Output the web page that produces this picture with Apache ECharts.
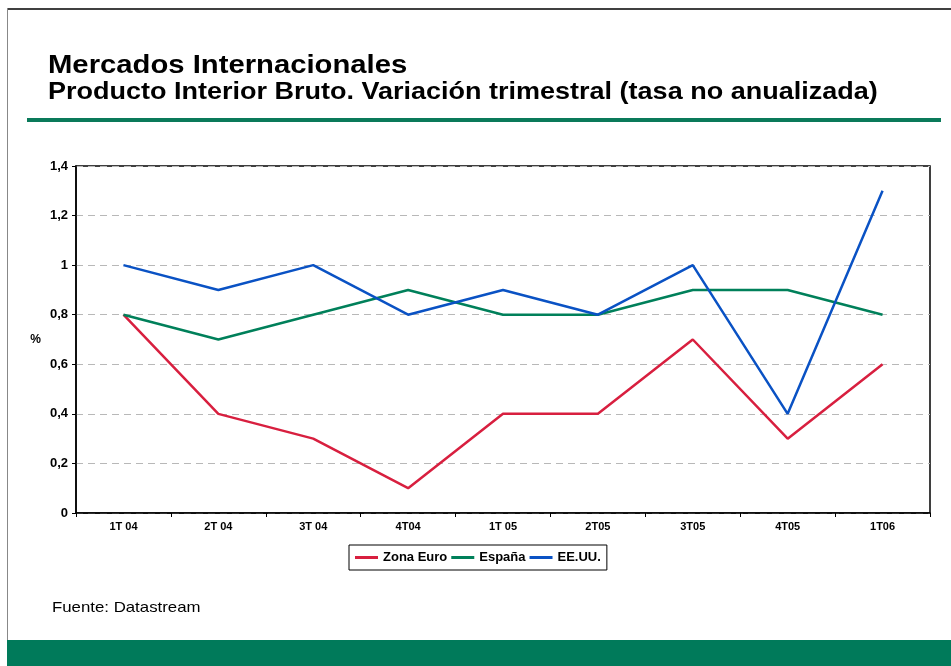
<!DOCTYPE html>
<html>
<head>
<meta charset="utf-8">
<script src="https://cdn.jsdelivr.net/npm/echarts@6/dist/echarts.min.js"></script>
<style>html,body{margin:0;padding:0;background:#fff;}#c{width:951px;height:666px;}</style>
</head>
<body>
<div id="c"></div>
<script>
const categories = ['1T 04','2T 04','3T 04','4T04','1T 05','2T05','3T05','4T05','1T06'];
const zonaEuro = [0.8, 0.4, 0.3, 0.1, 0.4, 0.4, 0.7, 0.3, 0.6];
const espana   = [0.8, 0.7, 0.8, 0.9, 0.8, 0.8, 0.9, 0.9, 0.8];
const eeuu     = [1.0, 0.9, 1.0, 0.8, 0.9, 0.8, 1.0, 0.4, 1.3];

const chart = echarts.init(document.getElementById('c'));
const font = 'Liberation Sans, Arial, sans-serif';
chart.setOption({
  animation: false,
  textStyle: { fontFamily: font },
  graphic: [
    { type: 'line', shape: { x1: 7, y1: 9, x2: 951, y2: 9 }, style: { stroke: '#000', lineWidth: 1.5 } },
    { type: 'line', shape: { x1: 7.5, y1: 8, x2: 7.5, y2: 640 }, style: { stroke: '#888', lineWidth: 1 } },
    { type: 'rect', shape: { x: 27, y: 118, width: 914, height: 4 }, style: { fill: '#0a7a5a' } },
    { type: 'rect', shape: { x: 7, y: 640, width: 944, height: 26 }, style: { fill: '#007a5a' } },
    { type: 'text', x: 48, y: 66, scaleX: 1.125, originX: 0,
      style: { text: 'Mercados Internacionales', font: 'bold 26px ' + font, fill: '#000', verticalAlign: 'middle', align: 'left' } },
    { type: 'text', x: 48, y: 92, scaleX: 1.125, originX: 0,
      style: { text: 'Producto Interior Bruto. Variación trimestral (tasa no anualizada)', font: 'bold 24px ' + font, fill: '#000', verticalAlign: 'middle', align: 'left' } },
    { type: 'text', x: 52, y: 608, scaleX: 1.12, originX: 0,
      style: { text: 'Fuente: Datastream', font: '15px ' + font, fill: '#000', verticalAlign: 'middle', align: 'left' } }
  ],
  legend: {
    left: 349, top: 545,
    data: ['Zona Euro','España','EE.UU.'],
    icon: 'rect', itemWidth: 23, itemHeight: 3, itemGap: 4,
    borderColor: '#000', borderWidth: 1, padding: [6, 6, 6, 6],
    textStyle: { fontSize: 13, fontWeight: 'bold', color: '#000', fontFamily: font }
  },
  grid: { left: 76, right: 21, top: 166, bottom: 153, show: true, borderColor: '#000', borderWidth: 1.5, containLabel: false },
  xAxis: {
    type: 'category', data: categories, boundaryGap: true,
    axisLine: { lineStyle: { color: '#000', width: 1.5 } },
    axisTick: { show: true, length: 4, lineStyle: { color: '#000' } },
    axisLabel: { fontSize: 11, fontWeight: 'bold', color: '#000', margin: 8 }
  },
  yAxis: {
    type: 'value', min: 0, max: 1.4, interval: 0.2,
    name: '%', nameLocation: 'middle', nameGap: 35, nameRotate: 0,
    nameTextStyle: { fontSize: 12, fontWeight: 'bold', color: '#000' },
    axisLine: { show: true, lineStyle: { color: '#000', width: 1.5 } },
    axisTick: { show: true, length: 4, lineStyle: { color: '#000' } },
    axisLabel: { fontSize: 13, fontWeight: 'bold', color: '#000', margin: 8,
      formatter: v => String(Math.round(v * 10) / 10).replace('.', ',') },
    splitLine: { show: true, lineStyle: { color: '#b8b8b8', type: [7, 5], width: 1 } }
  },
  series: [
    { name: 'Zona Euro', type: 'line', data: zonaEuro, symbol: 'none', lineStyle: { color: '#d81f3f', width: 2.5 }, itemStyle: { color: '#d81f3f' } },
    { name: 'España', type: 'line', data: espana, symbol: 'none', lineStyle: { color: '#00805a', width: 2.5 }, itemStyle: { color: '#00805a' } },
    { name: 'EE.UU.', type: 'line', data: eeuu, symbol: 'none', lineStyle: { color: '#0a52c4', width: 2.5 }, itemStyle: { color: '#0a52c4' } }
  ]
});
</script>
</body>
</html>
